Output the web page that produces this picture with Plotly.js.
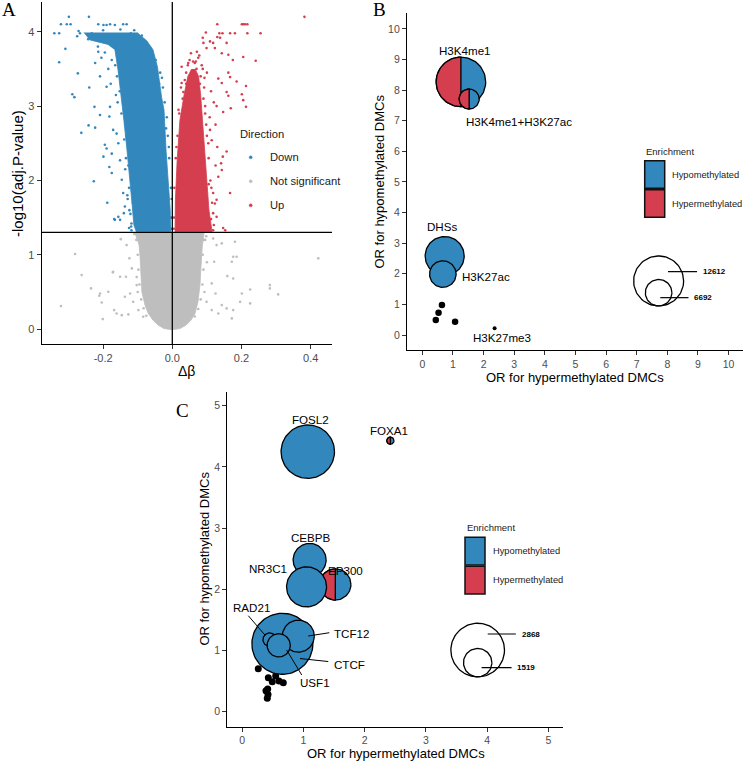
<!DOCTYPE html>
<html><head><meta charset="utf-8">
<script src="https://cdn.plot.ly/plotly-3.0.1.min.js"></script>
<style>html,body{margin:0;padding:0;background:#fff}#chart{width:744px;height:761px}</style>
</head><body><div id="chart"></div>
<script>
// ---------------- Panel A: volcano ----------------
const pThreshold = 0.05;
// dense cores (outline of the solid point clouds, data units)
const downCoreX = [-0.255,-0.238,-0.186,-0.166,-0.157,-0.148,-0.140,-0.131,-0.122,-0.116,-0.111,-0.104,-0.005,-0.006,-0.012,-0.018,-0.024,-0.031,-0.043,-0.056,-0.074,-0.102];
const downCoreY = [3.99,3.89,3.83,3.76,3.49,3.08,2.81,2.41,2.01,1.67,1.40,1.31,1.31,1.60,2.00,2.40,2.95,3.12,3.53,3.76,3.88,3.99];
const upCoreX = [0.056,0.045,0.034,0.022,0.014,0.009,0.008,0.115,0.106,0.100,0.094,0.089,0.082,0.076,0.066];
const upCoreY = [3.50,3.40,3.15,2.81,2.27,1.74,1.31,1.31,1.60,2.00,2.41,2.81,3.15,3.40,3.50];
const nsCoreX = [-0.108,-0.096,-0.093,-0.090,-0.088,-0.079,-0.070,-0.056,-0.041,-0.024,0,0.022,0.040,0.054,0.066,0.074,0.080,0.084,0.087,0.092];
const nsCoreY = [1.295,1.13,0.955,0.727,0.50,0.323,0.215,0.121,0.054,0.007,-0.007,0.007,0.054,0.121,0.215,0.363,0.592,0.929,1.13,1.295];
// sparse points
const downX = [-0.299,-0.241,-0.322,-0.305,-0.294,-0.341,-0.327,-0.271,-0.275,-0.243,-0.309,-0.327,-0.273,-0.240,-0.289,-0.283,-0.225,-0.263,-0.242,-0.223,-0.227,-0.188,-0.166,-0.156,-0.140,-0.142,-0.132,-0.214,-0.199,-0.190,-0.166,-0.180,-0.214,-0.223,-0.209,-0.190,-0.180,-0.233,-0.267,-0.209,-0.195,-0.190,-0.182,-0.182,-0.175,-0.168,-0.151,-0.146,-0.142,-0.137,-0.175,-0.199,-0.161,-0.156,-0.151,-0.163,-0.171,-0.128,-0.133,-0.127,-0.125,-0.121,-0.118,-0.135,-0.152,-0.160,-0.175,-0.195,-0.215,-0.170,-0.150,-0.145,-0.138,-0.003,-0.004,-0.009,-0.013,-0.016,-0.022,-0.027,-0.035,-0.048,-0.062,-0.088,-0.110,-0.150,-0.200,-0.120,-0.030,-0.134,-0.129,-0.118,-0.125,-0.001,-0.002,-0.010,-0.018,-0.038,-0.165,-0.185,-0.205,-0.178,-0.158,-0.147,-0.139,-0.136,-0.130,-0.124,-0.119,-0.114];
const downY = [4.20,4.20,4.10,4.10,4.10,3.98,3.98,4.01,3.94,3.90,3.77,3.59,3.44,3.25,3.16,3.12,2.99,2.64,2.74,2.71,1.99,1.70,1.47,1.51,1.56,4.10,4.10,4.10,4.09,4.09,4.09,4.10,3.73,3.58,3.40,3.26,2.99,3.98,3.98,2.88,2.48,2.43,2.86,2.18,2.10,1.48,1.47,2.01,1.83,1.65,2.36,2.32,2.63,2.50,2.27,3.15,2.68,2.90,2.60,2.20,1.90,1.55,1.42,2.75,3.20,3.40,3.62,3.72,3.80,3.80,3.60,3.35,3.00,1.50,1.90,2.30,2.60,2.85,3.05,3.25,3.45,3.62,3.75,3.95,4.02,4.03,4.02,3.98,3.38,2.30,1.75,1.33,1.36,1.35,1.75,2.45,2.70,3.30,3.55,3.50,3.65,3.30,3.05,2.90,2.55,2.15,1.80,1.60,1.38,1.70];
const upX = [0.130,0.201,0.205,0.210,0.217,0.255,0.217,0.181,0.167,0.145,0.136,0.097,0.088,0.130,0.138,0.109,0.090,0.118,0.157,0.099,0.123,0.143,0.162,0.175,0.205,0.241,0.054,0.071,0.027,0.046,0.061,0.162,0.167,0.186,0.213,0.143,0.133,0.157,0.162,0.201,0.205,0.213,0.169,0.147,0.128,0.027,0.032,0.382,0.157,0.153,0.167,0.143,0.128,0.118,0.146,0.141,0.133,0.147,0.128,0.118,0.109,0.114,0.123,0.005,0.006,0.010,0.015,0.020,0.030,0.040,0.055,0.070,0.080,0.090,0.095,0.100,0.105,0.110,0.115,0.120,0.060,0.075,0.085,0.100,0.112,0.120,0.125,0.130,0.108,0.125,0.040,0.004,0.118,0.112,0.105,0.098,0.092,0.045,0.065,0.082,0.095,0.104,0.113,0.018,0.025,0.012,0.050,0.068,0.088,0.078,0.036,0.093];
const upY = [4.10,4.10,4.10,4.10,4.10,3.98,3.98,3.98,3.98,3.98,3.98,3.99,3.92,3.93,3.92,3.87,3.85,3.85,3.85,3.78,3.78,3.71,3.69,3.62,3.66,3.61,3.71,3.73,3.53,3.58,3.46,3.45,3.39,3.33,3.27,3.31,3.37,3.19,3.14,3.16,3.08,2.99,2.97,2.92,3.00,3.31,3.19,4.20,2.39,1.33,1.83,2.14,1.74,1.56,2.32,2.23,2.05,1.36,1.51,1.83,2.68,2.54,1.69,1.50,1.90,2.30,2.60,2.90,3.10,3.30,3.45,3.50,3.30,3.10,2.90,2.60,2.30,2.00,1.70,1.40,3.60,3.65,3.55,3.45,3.20,3.05,2.75,2.45,2.85,2.20,3.45,1.35,1.33,1.48,1.95,2.75,3.25,3.55,3.58,3.40,3.00,2.50,1.90,2.95,3.25,2.45,3.62,3.60,3.50,3.68,3.35,3.38];
const nsX = [-0.281,-0.262,-0.322,-0.235,-0.211,-0.204,-0.201,-0.185,-0.172,-0.151,-0.134,-0.168,-0.161,-0.146,-0.127,-0.122,-0.113,-0.137,-0.149,-0.132,-0.124,-0.117,-0.103,-0.098,-0.084,0.118,0.128,0.181,0.176,0.172,0.121,0.159,0.114,0.125,0.201,0.225,0.282,0.282,0.306,0.196,0.225,0.143,0.157,0.176,0.133,0.172,0.114,0.099,0.422,-0.209,-0.171,0.176,0.186,-0.084,0.090,0.143,-0.100,-0.098,-0.095,-0.090,-0.083,-0.075,-0.104,0.088,0.090,0.087,0.082,0.075,0.065,0.095,0.098,-0.110,0.100,0.093,-0.103,-0.100];
const nsY = [1.01,0.727,0.31,0.548,0.448,0.359,0.135,0.502,0.763,0.704,0.704,0.256,0.211,0.188,0.198,0.48,0.367,0.435,1.21,1.13,0.952,0.817,0.592,0.256,0.166,1.22,1.13,1.175,0.973,0.906,0.906,0.713,0.615,0.48,0.48,0.534,0.592,0.548,0.467,0.367,0.346,0.323,0.279,0.256,0.211,0.144,0.256,0.367,0.952,0.48,0.771,0.682,0.973,1.20,1.20,1.153,1.00,0.80,0.60,0.40,0.28,0.18,1.20,1.00,0.80,0.60,0.40,0.27,0.17,1.20,1.25,1.28,0.90,0.50,0.70,0.50];
const directionLabels = ["Down","Not significant","Up"];
const aTicksX = [-0.2,0,0.2,0.4], aTickTextX = ["-0.2","0.0","0.2","0.4"];
const aTicksY = [0,1,2,3,4];

// ---------------- Panel B: histone marks ----------------
const bLabels = ["H3K4me1","H3K4me1+H3K27ac","DHSs","H3K27ac"];
const bHyperOR = [1.26,1.53,0.73,0.67];
const bHypoOR = [8.27,7.71,2.58,1.99];
const bCount = [12500,5050,9840,6700];
const bHyperShare = [0.5,0.5,0,0];
const bNsLabels = ["","","","","H3K27me3"];
const bNsHyperOR = [0.64,0.53,0.44,1.07,2.36];
const bNsHypoOR = [0.98,0.73,0.49,0.43,0.22];
const bLegendCounts = [12612,6692];
const bTicks = [0,1,2,3,4,5,6,7,8,9,10];

// ---------------- Panel C: transcription factors ----------------
const cLabels = ["EP300","CEBPB","NR3C1","FOSL2","FOXA1","CTCF","TCF12","RAD21","USF1"];
const cHyperOR = [1.52,1.10,1.05,1.07,2.42,0.655,0.915,0.447,0.595];
const cHypoOR = [2.08,2.48,2.04,4.25,4.43,1.11,1.235,1.178,1.085];
const cCount = [1670,1766,2140,2857,385,3264,1712,717,1241];
const cHyperShare = [0.5,0,0,0,0.5,0,0,0,0];
const cNsHyperOR = [0.261,0.425,0.546,0.49,0.67,0.415,0.387,0.408,0.60,0.42];
const cNsHypoOR = [0.703,0.556,0.583,0.49,0.474,0.371,0.343,0.219,0.50,0.28];
const cLegendCounts = [2868,1519];
const cTicks = [0,1,2,3,4,5];

// ---------------- helpers ----------------
const FONT = 'Liberation Sans, Arial, Helvetica, sans-serif';
const SERIF = 'Liberation Serif, Times New Roman, serif';
const BLUE = '#3288BD', RED = '#D53E4F', GREY = '#BEBEBE';
const P = px => px / 744, Q = py => 1 - py / 761;
const KB = (25 / 30.62) / 12612;   // data-units radius per count, panel B
const KC = (26.8 / 61.2) / 2868;   // panel C

function circle(cx, cy, r, n = 90) {
  const xs = [], ys = [];
  for (let i = 0; i <= n; i++) { const t = 2 * Math.PI * i / n; xs.push(cx + r * Math.cos(t)); ys.push(cy + r * Math.sin(t)); }
  return [xs, ys];
}
function slice(cx, cy, r, a0, a1, n = 60) {
  const xs = [cx], ys = [cy];
  for (let i = 0; i <= n; i++) { const t = a0 + (a1 - a0) * i / n; xs.push(cx + r * Math.cos(t)); ys.push(cy + r * Math.sin(t)); }
  xs.push(cx); ys.push(cy);
  return [xs, ys];
}
function poly(xs, ys, color, xa, ya, lineColor, lw) {
  return {type: 'scatter', mode: 'lines', x: xs, y: ys, xaxis: xa, yaxis: ya, fill: 'toself', fillcolor: color,
          line: {color: lineColor || color, width: lw === undefined ? 0.8 : lw}, hoverinfo: 'skip', showlegend: false};
}
const traces = [];
// Panel A
traces.push(poly(nsCoreX, nsCoreY, GREY, 'x', 'y'));
traces.push(poly(downCoreX, downCoreY, BLUE, 'x', 'y'));
traces.push(poly(upCoreX, upCoreY, RED, 'x', 'y'));
[[nsX, nsY, GREY, directionLabels[1]], [downX, downY, BLUE, directionLabels[0]], [upX, upY, RED, directionLabels[2]]].forEach(([xs, ys, c, nm]) => {
  traces.push({type: 'scatter', mode: 'markers', x: xs, y: ys, name: nm, xaxis: 'x', yaxis: 'y',
               marker: {color: c, size: 2.6, line: {width: 0}}, hoverinfo: 'skip', showlegend: false});
});

function bubbles(xs, ys, counts, share, K, xa, ya) {
  for (let i = 0; i < xs.length; i++) {
    const r = counts[i] * K;
    const [cx, cy] = circle(xs[i], ys[i], r);
    traces.push(poly(cx, cy, share[i] >= 1 ? RED : BLUE, xa, ya, '#000', 1.3));
    if (share[i] > 0 && share[i] < 1) {
      const [sx, sy] = slice(xs[i], ys[i], r, Math.PI / 2, Math.PI / 2 + 2 * Math.PI * share[i]);
      traces.push(poly(sx, sy, RED, xa, ya, '#000', 1.3));
    }
  }
}
function sizeLegend(cx, bottom, counts, K, xa, ya) {
  counts.forEach(c => {
    const r = c * K;
    const [x, y] = circle(cx, bottom + r, r);
    traces.push({type: 'scatter', mode: 'lines', x: x, y: y, xaxis: xa, yaxis: ya, line: {color: '#000', width: 1.3}, hoverinfo: 'skip', showlegend: false});
  });
}
// Panel B
traces.push({type: 'scatter', mode: 'markers', x: bNsHyperOR.slice(0, 4), y: bNsHypoOR.slice(0, 4), xaxis: 'x2', yaxis: 'y2',
             marker: {color: '#000', size: 6.5}, hoverinfo: 'skip', showlegend: false});
traces.push({type: 'scatter', mode: 'markers', x: [bNsHyperOR[4]], y: [bNsHypoOR[4]], xaxis: 'x2', yaxis: 'y2',
             marker: {color: '#000', size: 4}, hoverinfo: 'skip', showlegend: false});
bubbles(bHyperOR, bHypoOR, bCount, bHyperShare, KB, 'x2', 'y2');
sizeLegend(7.715, 0.948, bLegendCounts, KB, 'x2', 'y2');
const bLegLines = {x: [[8.02, 8.97], [7.77, 8.69]], y: [2.07, 1.22], labx: [9.09, 8.82]};
bLegLines.x.forEach((xx, i) => traces.push({type: 'scatter', mode: 'lines', x: xx, y: [bLegLines.y[i], bLegLines.y[i]], xaxis: 'x2', yaxis: 'y2', line: {color: '#000', width: 1.2}, hoverinfo: 'skip', showlegend: false}));
// Panel C
traces.push({type: 'scatter', mode: 'markers', x: cNsHyperOR, y: cNsHypoOR, xaxis: 'x3', yaxis: 'y3',
             marker: {color: '#000', size: 7}, hoverinfo: 'skip', showlegend: false});
bubbles(cHyperOR, cHypoOR, cCount, cHyperShare, KC, 'x3', 'y3');
sizeLegend(3.846, 0.570, cLegendCounts, KC, 'x3', 'y3');
const cLegLines = {x: [[4.01, 4.47], [3.91, 4.40]], y: [1.27, 0.719], labx: [4.54, 4.46]};
cLegLines.x.forEach((xx, i) => traces.push({type: 'scatter', mode: 'lines', x: xx, y: [cLegLines.y[i], cLegLines.y[i]], xaxis: 'x3', yaxis: 'y3', line: {color: '#000', width: 1.2}, hoverinfo: 'skip', showlegend: false}));
// label leader segments (RAD21, TCF12, CTCF, USF1)
const cSegX = [[0.098, 0.371], [1.078, 1.422], [0.943, 1.405], [0.725, 0.971]];
const cSegY = [[1.569, 1.252], [1.237, 1.291], [0.869, 0.820], [1.008, 0.600]];
cSegX.forEach((xx, i) => traces.push({type: 'scatter', mode: 'lines', x: xx, y: cSegY[i], xaxis: 'x3', yaxis: 'y3', line: {color: '#000', width: 1}, hoverinfo: 'skip', showlegend: false}));

// ---------------- layout ----------------
const axBase = {showline: true, linecolor: '#000', linewidth: 1.1, ticks: 'outside', ticklen: 4, tickcolor: '#333', tickwidth: 1,
                showgrid: false, zeroline: false, fixedrange: true, tickfont: {family: FONT, size: 11, color: '#4D4D4D'}};
const ax = (o) => Object.assign({}, axBase, o);
const ann = [];
const txt = (text, x, y, o) => ann.push(Object.assign({text: text, x: x, y: y, xref: 'paper', yref: 'paper', showarrow: false,
                                 xanchor: 'center', yanchor: 'middle',
                                 font: {family: FONT, size: 13, color: '#000'}}, o || {}));
// axis titles
txt('-log10(adj.P-value)', P(17), Q(174), {textangle: -90, font: {family: FONT, size: 15, color: '#000'}});
txt('Δβ', P(186.5), Q(371), {font: {family: FONT, size: 14, color: '#000'}});
txt('OR for hypomethylated DMCs', P(379.5), Q(182), {textangle: -90});
txt('OR for hypermethylated DMCs', P(575), Q(377));
txt('OR for hypomethylated DMCs', P(203.5), Q(558), {textangle: -90});
txt('OR for hypermethylated DMCs', P(396), Q(753));
// panel letters
txt('A', P(8.5), Q(9), {font: {family: SERIF, size: 19, color: '#000'}});
txt('B', P(379), Q(9), {font: {family: SERIF, size: 19, color: '#000'}});
txt('C', P(182.5), Q(410), {font: {family: SERIF, size: 19, color: '#000'}});
// Panel A legend
txt('Direction', P(238.3), Q(134.3), {xanchor: 'left', font: {family: FONT, size: 11.2, color: '#1a1a1a'}});
const legY = [157.3, 181.3, 205.3], legC = [BLUE, GREY, RED];
const shapes = [];
directionLabels.forEach((d, i) => {
  txt(d, P(268.3), Q(legY[i]), {xanchor: 'left', font: {family: FONT, size: 11.2, color: '#1a1a1a'}});
  shapes.push({type: 'circle', xref: 'paper', yref: 'paper', x0: P(249.2), x1: P(252.2), y0: Q(legY[i] + 1.5), y1: Q(legY[i] - 1.5),
               fillcolor: legC[i], line: {color: legC[i], width: 0.5}});
});
// threshold lines (panel A)
shapes.push({type: 'line', xref: 'x domain', yref: 'y', x0: 0, x1: 1, y0: -Math.log10(pThreshold), y1: -Math.log10(pThreshold), line: {color: '#000', width: 1.3}, layer: 'above'});
shapes.push({type: 'line', xref: 'x', yref: 'y domain', x0: 0, x1: 0, y0: 0, y1: 1, line: {color: '#000', width: 1.3}, layer: 'above'});
// enrichment legends
function enrichLegend(left, titleY, top) {
  txt('Enrichment', P(left - 0.4), Q(titleY), {xanchor: 'left', font: {family: FONT, size: 9.5, color: '#1a1a1a'}});
  shapes.push({type: 'rect', xref: 'paper', yref: 'paper', x0: P(left), x1: P(left + 20), y0: Q(top + 27.6), y1: Q(top), fillcolor: BLUE, line: {color: '#111', width: 1.5}});
  shapes.push({type: 'rect', xref: 'paper', yref: 'paper', x0: P(left), x1: P(left + 20), y0: Q(top + 56.6), y1: Q(top + 29), fillcolor: RED, line: {color: '#111', width: 1.5}});
  txt('Hypomethylated', P(left + 25.7), Q(top + 13.8), {xanchor: 'left', font: {family: FONT, size: 9.3, color: '#1a1a1a'}});
  txt('Hypermethylated', P(left + 25.7), Q(top + 43), {xanchor: 'left', font: {family: FONT, size: 9.3, color: '#1a1a1a'}});
}
enrichLegend(644.7, 151, 160.7);
enrichLegend(465, 527.7, 537.3);
// data-coordinate labels
const dlab = (text, x, y, xa, ya, o) => ann.push(Object.assign({text: text, x: x, y: y, xref: xa, yref: ya, showarrow: false,
                                        xanchor: 'center', yanchor: 'middle',
                                        font: {family: FONT, size: 11.6, color: '#000'}}, o || {}));
const bLabPos = {x: [1.38, 3.15, 0.65, 1.23], y: [9.28, 6.98, 3.53, 1.905], anchor: ['center', 'center', 'center', 'left']};
bLabels.forEach((l, i) => dlab(l, bLabPos.x[i], bLabPos.y[i], 'x2', 'y2', {xanchor: bLabPos.anchor[i]}));
dlab(bNsLabels[4], 2.61, -0.09, 'x2', 'y2');
bLegendCounts.forEach((c, i) => dlab(String(c), bLegLines.labx[i], bLegLines.y[i], 'x2', 'y2', {xanchor: 'left', font: {family: FONT, size: 8, color: '#000', weight: 'bold'}}));
const cLabPos = {x: [1.69, 1.118, 0.768, 1.118, 2.402, 1.471, 1.471, 0.147, 0.915],
                 y: [2.304, 2.843, 2.343, 4.783, 4.59, 0.779, 1.281, 1.699, 0.485],
                 anchor: ['center', 'center', 'right', 'center', 'center', 'left', 'left', 'center', 'left']};
cLabels.forEach((l, i) => dlab(l, cLabPos.x[i], cLabPos.y[i], 'x3', 'y3', {xanchor: cLabPos.anchor[i]}));
cLegendCounts.forEach((c, i) => dlab(String(c), cLegLines.labx[i], cLegLines.y[i], 'x3', 'y3', {xanchor: 'left', font: {family: FONT, size: 8, color: '#000', weight: 'bold'}}));

const layout = {
  width: 744, height: 761, margin: {l: 0, r: 0, t: 0, b: 0}, paper_bgcolor: '#fff', plot_bgcolor: 'rgba(0,0,0,0)',
  showlegend: false, font: {family: FONT},
  xaxis: ax({domain: [P(41.7), P(332)], range: [-0.3775, 0.4616], anchor: 'y', tickvals: aTicksX, ticktext: aTickTextX}),
  yaxis: ax({domain: [Q(344), Q(2)], range: [-0.2, 4.40], anchor: 'x', tickvals: aTicksY}),
  xaxis2: ax({domain: [P(407), P(743)], range: [-0.50, 10.47], anchor: 'y2', tickvals: bTicks, tickfont: {family: FONT, size: 10.5, color: '#4D4D4D'}}),
  yaxis2: ax({domain: [Q(350), Q(13)], range: [-0.49, 10.52], anchor: 'x2', tickvals: bTicks, tickfont: {family: FONT, size: 10.5, color: '#4D4D4D'}}),
  xaxis3: ax({domain: [P(227.3), P(563.3)], range: [-0.245, 5.245], anchor: 'y3', tickvals: cTicks, tickfont: {family: FONT, size: 10.5, color: '#4D4D4D'}}),
  yaxis3: ax({domain: [Q(726.7), Q(391.7)], range: [-0.245, 5.23], anchor: 'x3', tickvals: cTicks, tickfont: {family: FONT, size: 10.5, color: '#4D4D4D'}}),
  annotations: ann, shapes: shapes
};
Plotly.newPlot('chart', traces, layout, {displayModeBar: false, staticPlot: true});
</script>
</body></html>
